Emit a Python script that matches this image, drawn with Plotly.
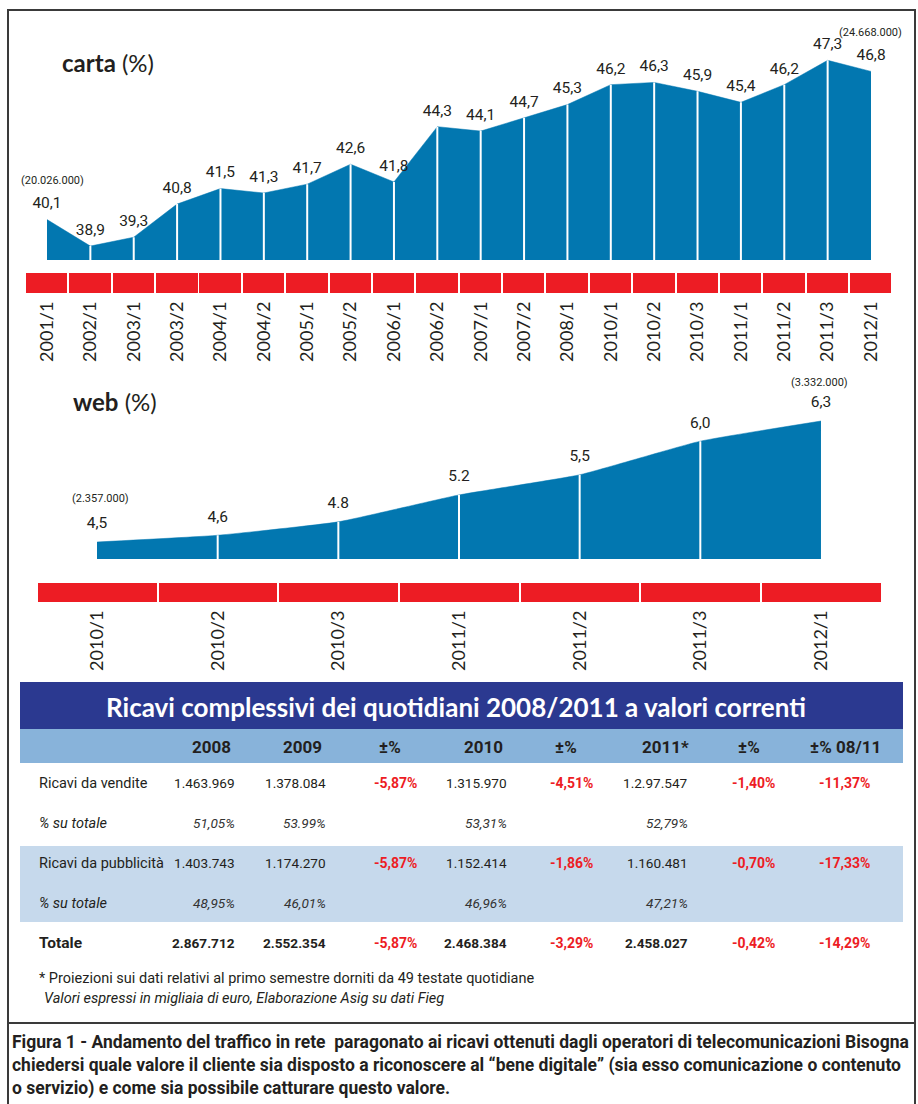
import plotly.graph_objects as go

# ---------------- data ----------------
carta_periods = ["2001/1", "2002/1", "2003/1", "2003/2", "2004/1", "2004/2", "2005/1", "2005/2",
                 "2006/1", "2006/2", "2007/1", "2007/2", "2008/1", "2010/1", "2010/2", "2010/3",
                 "2011/1", "2011/2", "2011/3", "2012/1"]
carta_values = [40.1, 38.9, 39.3, 40.8, 41.5, 41.3, 41.7, 42.6, 41.8, 44.3,
                44.1, 44.7, 45.3, 46.2, 46.3, 45.9, 45.4, 46.2, 47.3, 46.8]
carta_labels = ["40,1", "38,9", "39,3", "40,8", "41,5", "41,3", "41,7", "42,6", "41,8", "44,3",
                "44,1", "44,7", "45,3", "46,2", "46,3", "45,9", "45,4", "46,2", "47,3", "46,8"]
carta_first_total = "(20.026.000)"
carta_last_total = "(24.668.000)"

web_periods = ["2010/1", "2010/2", "2010/3", "2011/1", "2011/2", "2011/3", "2012/1"]
web_values = [4.5, 4.6, 4.8, 5.2, 5.5, 6.0, 6.3]
web_labels = ["4,5", "4,6", "4.8", "5.2", "5,5", "6,0", "6,3"]
web_first_total = "(2.357.000)"
web_last_total = "(3.332.000)"

table_title = "Ricavi complessivi dei quotidiani 2008/2011 a valori correnti"
table_header = ["2008", "2009", "±%", "2010", "±%", "2011*", "±%", "±% 08/11"]
row_names = ["Ricavi da vendite", "% su totale", "Ricavi da pubblicità", "% su totale", "Totale"]
row_values = [
    ["1.463.969", "1.378.084", "-5,87%", "1.315.970", "-4,51%", "1.2.97.547", "-1,40%", "-11,37%"],
    ["51,05%", "53.99%", "", "53,31%", "", "52,79%", "", ""],
    ["1.403.743", "1.174.270", "-5,87%", "1.152.414", "-1,86%", "1.160.481", "-0,70%", "-17,33%"],
    ["48,95%", "46,01%", "", "46,96%", "", "47,21%", "", ""],
    ["2.867.712", "2.552.354", "-5,87%", "2.468.384", "-3,29%", "2.458.027", "-0,42%", "-14,29%"],
]
row_styles = ["normal", "italic", "normal", "italic", "bold"]
change_cols = [2, 4, 6, 7]
footnote_1 = "* Proiezioni sui dati relativi al primo semestre dorniti da 49 testate quotidiane"
footnote_2 = "Valori espressi in migliaia di euro, Elaborazione Asig su dati Fieg"
caption = ("Figura 1 - Andamento del traffico in rete  paragonato ai ricavi ottenuti dagli operatori di telecomunicazioni Bisogna<br>"
           "chiedersi quale valore il cliente sia disposto a riconoscere al “bene digitale” (sia esso comunicazione o contenuto<br>"
           "o servizio) e come sia possibile catturare questo valore.")

# ---------------- style ----------------
W, H = 918, 1104
BLUE = "#0277B0"
RED = "#ED1C24"
NAVY = "#2B3990"
HEAD_BLUE = "#88B3DA"
BAND_BLUE = "#C6D9EC"
DARK = "#231F20"
NARROW = "Roboto, Liberation Sans, sans-serif"
SANS = "Lato, Open Sans, sans-serif"


def fx(x):
    return x / W


def fy(y):
    return 1 - y / H


carta_range = [38.27, 48.22]
web_range = [4.247, 6.613]
cx = list(range(len(carta_values)))
wx = list(range(len(web_values)))

fig = go.Figure()

# ---- carta area ----
fig.add_trace(go.Scatter(x=cx, y=carta_values, mode="lines", fill="tozeroy",
                         fillcolor=BLUE, line=dict(color=BLUE, width=0.5),
                         xaxis="x", yaxis="y", hoverinfo="skip"))
sx, sy = [], []
for i in cx[1:-1]:
    sx += [i, i, None]
    sy += [carta_range[0], carta_values[i], None]
fig.add_trace(go.Scatter(x=sx, y=sy, mode="lines", line=dict(color="white", width=2),
                         xaxis="x", yaxis="y", hoverinfo="skip"))
fig.add_trace(go.Scatter(x=cx, y=carta_values, mode="markers+text", text=carta_labels,
                         textposition="top center", marker=dict(size=10, opacity=0),
                         textfont=dict(family=NARROW, size=15.5, color=DARK),
                         cliponaxis=False, xaxis="x", yaxis="y", hoverinfo="skip"))
fig.add_trace(go.Bar(x=cx, y=[1] * len(cx), width=0.955, marker=dict(color=RED, line=dict(width=0)),
                     xaxis="x2", yaxis="y2", hoverinfo="skip"))

# ---- web area ----
fig.add_trace(go.Scatter(x=wx, y=web_values, mode="lines", fill="tozeroy",
                         fillcolor=BLUE, line=dict(color=BLUE, width=0.5, shape="spline", smoothing=0.4),
                         xaxis="x3", yaxis="y3", hoverinfo="skip"))
sx, sy = [], []
for i in wx[1:-1]:
    sx += [i, i, None]
    sy += [web_range[0], web_values[i], None]
fig.add_trace(go.Scatter(x=sx, y=sy, mode="lines", line=dict(color="white", width=2),
                         xaxis="x3", yaxis="y3", hoverinfo="skip"))
fig.add_trace(go.Scatter(x=wx, y=web_values, mode="markers+text", text=web_labels,
                         textposition="top center", marker=dict(size=14, opacity=0),
                         textfont=dict(family=NARROW, size=15.5, color=DARK),
                         cliponaxis=False, xaxis="x3", yaxis="y3", hoverinfo="skip"))
fig.add_trace(go.Bar(x=wx, y=[1] * len(wx), width=0.985, marker=dict(color=RED, line=dict(width=0)),
                     xaxis="x4", yaxis="y4", hoverinfo="skip"))

hidden = dict(visible=False, fixedrange=True)
carta_dom = [fx(25.3), fx(892.7)]
web_dom = [fx(36.7), fx(881.3)]
tickfont = dict(family=SANS, size=18, color=DARK)

fig.update_layout(
    width=W, height=H, margin=dict(l=0, r=0, t=0, b=0),
    paper_bgcolor="white", plot_bgcolor="rgba(0,0,0,0)", showlegend=False,
    bargap=0,
    xaxis=dict(domain=carta_dom, range=[-0.5, len(cx) - 0.5], anchor="y", **hidden),
    yaxis=dict(domain=[fy(260), fy(40)], range=carta_range, anchor="x", **hidden),
    xaxis2=dict(domain=carta_dom, range=[-0.5, len(cx) - 0.5], anchor="y2",
                tickmode="array", tickvals=cx, ticktext=carta_periods, tickangle=-90,
                ticks="", showline=False, showgrid=False, zeroline=False, tickfont=tickfont,
                ticklabelstandoff=4, fixedrange=True),
    yaxis2=dict(domain=[fy(293), fy(273)], range=[0, 1], anchor="x2", **hidden),
    xaxis3=dict(domain=web_dom, range=[-0.5, len(wx) - 0.5], anchor="y3", **hidden),
    yaxis3=dict(domain=[fy(559), fy(400)], range=web_range, anchor="x3", **hidden),
    xaxis4=dict(domain=web_dom, range=[-0.5, len(wx) - 0.5], anchor="y4",
                tickmode="array", tickvals=wx, ticktext=web_periods, tickangle=-90,
                ticks="", showline=False, showgrid=False, zeroline=False, tickfont=tickfont,
                ticklabelstandoff=4, fixedrange=True),
    yaxis4=dict(domain=[fy(602), fy(583)], range=[0, 1], anchor="x4", **hidden),
)

ann = []
small = dict(family=NARROW, size=11, color=DARK)
ann.append(dict(xref="x", yref="y", x=cx[0], y=carta_values[0], text=carta_first_total,
                showarrow=False, font=small, xshift=6, yshift=39))
ann.append(dict(xref="x", yref="y", x=cx[-1], y=carta_values[-1], text=carta_last_total,
                showarrow=False, font=small, xshift=-1, yshift=39))
ann.append(dict(xref="x3", yref="y3", x=wx[0], y=web_values[0], text=web_first_total,
                showarrow=False, font=small, xshift=3, yshift=44))
ann.append(dict(xref="x3", yref="y3", x=wx[-1], y=web_values[-1], text=web_last_total,
                showarrow=False, font=small, xshift=-1, yshift=39))

# titles
ann.append(dict(xref="paper", yref="paper", x=fx(60), y=fy(63), xanchor="left", yanchor="middle",
                text="<b>carta</b> (%)", showarrow=False, font=dict(family=SANS, size=24, color=DARK)))
ann.append(dict(xref="paper", yref="paper", x=fx(71), y=fy(401), xanchor="left", yanchor="middle",
                text="<b>web</b> (%)", showarrow=False, font=dict(family=SANS, size=24, color=DARK)))

# table
ann.append(dict(xref="paper", yref="paper", x=fx(456), y=fy(707), xanchor="center", yanchor="middle",
                text="<b>" + table_title + "</b>", showarrow=False,
                font=dict(family=SANS, size=26, color="white")))
head_centers = [211, 302, 390, 483, 566, 665, 749, 845]
col_right = [237, 328, 419, 509, 595, 690, 777, 872]
for c, h in enumerate(table_header):
    ann.append(dict(xref="paper", yref="paper", x=fx(head_centers[c]), y=fy(747), xanchor="center",
                    yanchor="middle", text="<b>" + h + "</b>", showarrow=False,
                    font=dict(family=NARROW, size=17, color=DARK)))
row_y = [783, 823, 863, 903, 943]
for r, name in enumerate(row_names):
    st = row_styles[r]
    if st == "italic":
        wrap = lambda t: "<i>" + t + "</i>"
    elif st == "bold":
        wrap = lambda t: "<b>" + t + "</b>"
    else:
        wrap = lambda t: t
    ann.append(dict(xref="paper", yref="paper", x=fx(37), y=fy(row_y[r]), xanchor="left", yanchor="middle",
                    text=wrap(name), showarrow=False,
                    font=dict(family=NARROW, size=15.5 if st == "bold" else 14.5, color=DARK)))
    for c, v in enumerate(row_values[r]):
        if not v:
            continue
        if c in change_cols:
            txt, col, sz = "<b>" + v + "</b>", RED, 14
        else:
            txt, col, sz = wrap(v), (DARK if st != "italic" else "#333333"), 13.6
        ann.append(dict(xref="paper", yref="paper", x=fx(col_right[c]), y=fy(row_y[r]), xanchor="right",
                        yanchor="middle", text=txt, showarrow=False,
                        font=dict(family=NARROW, size=sz, color=col)))
ann.append(dict(xref="paper", yref="paper", x=fx(37), y=fy(978), xanchor="left", yanchor="middle",
                text=footnote_1, showarrow=False, font=dict(family=NARROW, size=14.5, color=DARK)))
ann.append(dict(xref="paper", yref="paper", x=fx(42), y=fy(998), xanchor="left", yanchor="middle",
                text="<i>" + footnote_2 + "</i>", showarrow=False, font=dict(family=NARROW, size=14.5, color=DARK)))
ann.append(dict(xref="paper", yref="paper", x=fx(10), y=fy(1065), xanchor="left", yanchor="middle",
                text="<b>" + caption + "</b>", showarrow=False, align="left",
                font=dict(family=NARROW, size=17.5, color=DARK)))
fig.update_layout(annotations=ann)

shapes = [
    dict(type="rect", xref="paper", yref="paper", x0=fx(20), x1=fx(903), y0=fy(729), y1=fy(682),
         fillcolor=NAVY, line=dict(width=0), layer="below"),
    dict(type="rect", xref="paper", yref="paper", x0=fx(20), x1=fx(903), y0=fy(763), y1=fy(729),
         fillcolor=HEAD_BLUE, line=dict(width=0), layer="below"),
    dict(type="rect", xref="paper", yref="paper", x0=fx(20), x1=fx(903), y0=fy(922), y1=fy(846),
         fillcolor=BAND_BLUE, line=dict(width=0), layer="below"),
    dict(type="rect", xref="paper", yref="paper", x0=fx(8), x1=fx(915), y0=fy(1110), y1=fy(10),
         line=dict(color="#3A3A3A", width=2)),
    dict(type="line", xref="paper", yref="paper", x0=fx(8), x1=fx(915), y0=fy(1023), y1=fy(1023),
         line=dict(color="#3A3A3A", width=2)),
]
fig.update_layout(shapes=shapes)

fig.write_html("out.html")
